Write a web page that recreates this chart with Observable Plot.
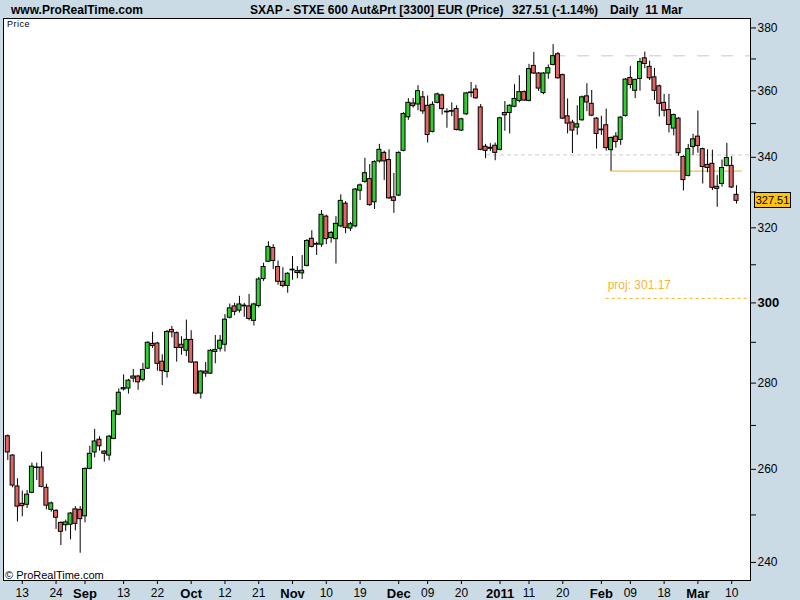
<!DOCTYPE html>
<html><head><meta charset="utf-8">
<script src="https://cdn.jsdelivr.net/npm/d3@7"></script>
<script src="https://cdn.jsdelivr.net/npm/@observablehq/plot@0.6"></script>
<style>
html,body{margin:0;padding:0;background:#cbdbe5;}
#wrap{position:relative;width:800px;height:600px;background:#cbdbe5;font-family:"Liberation Sans",Arial,sans-serif;overflow:hidden;}
#wrap svg{position:absolute;left:0;top:0;}
.t{position:absolute;font-weight:bold;font-size:12px;white-space:pre;color:#000;top:3px;line-height:14px;}
.s{position:absolute;white-space:pre;color:#000;}
#box{position:absolute;left:754px;width:35px;height:14px;background:#ffc20e;border:1px solid #000;font-size:11px;line-height:14px;text-align:center;}
</style></head>
<body><div id="wrap"></div>
<script>
// OHLC, one per trading day (10 Aug 2010 .. 11 Mar 2011)
const open  = [267.5,263.1,256.2,252.4,252.2,254.8,260.3,260.4,255.9,251.1,250.9,248.3,247.8,247.9,251.2,251.1,249.7,260.1,263.8,266.7,264.0,263.1,266.9,272.5,278.5,278.7,281.1,281.6,280.8,283.5,289.6,289.7,285.2,282.7,293.1,292.3,289.4,287.9,290.6,285.0,277.5,282.8,282.3,287.6,288.4,289.4,296.2,299.1,298.0,299.3,299.1,295.4,299.2,306.2,310.8,314.5,309.4,305.5,304.4,308.5,307.8,307.7,309.7,317.0,315.4,315.4,323.1,317.2,316.9,320.4,326.7,319.8,320.4,330.4,332.9,333.7,327.1,338.8,341.3,339.2,328.5,329.0,341.9,351.9,356.1,355.8,358.0,355.4,347.5,356.3,358.6,353.4,353.6,354.4,347.9,352.8,359.3,360.4,354.9,343.1,342.5,343.4,342.2,352.5,353.2,355.1,356.9,359.6,356.9,367.8,365.4,359.3,365.4,368.1,371.5,364.9,352.2,350.3,348.8,351.0,358.3,356.0,351.5,348.0,349.5,342.1,346.1,345.1,352.3,364.0,360.0,363.7,370.2,367.5,364.2,361.4,356.3,354.1,348.5,351.5,340.1,334.6,343.0,346.1,342.4,337.8,338.1,330.9,332.3,337.5,337.5,329.2];
const high  = [267.8,263.3,257.9,255.2,255.3,261.4,261.4,263.9,256.7,252.8,251.1,248.5,248.9,250.5,251.8,251.8,260.3,265.2,269.1,267.4,264.2,267.7,273.6,278.6,282.0,280.9,283.3,281.9,284.8,290.1,292.5,290.0,286.9,293.0,294.0,292.6,291.4,295.6,292.9,285.2,283.0,285.0,288.2,291.7,291.7,297.0,299.7,299.9,301.7,299.9,302.2,299.9,306.6,310.4,316.2,315.4,311.0,309.2,307.9,312.2,309.5,312.5,316.8,319.2,316.1,324.8,323.5,319.0,323.1,329.2,327.3,321.5,331.0,332.3,339.7,337.9,339.0,343.8,341.8,342.2,335.3,341.6,353.3,357.6,357.6,361.6,359.8,358.4,356.6,359.3,359.0,354.5,356.3,355.4,351.6,359.5,362.6,361.7,355.8,343.8,344.0,344.2,351.9,356.7,355.7,361.9,364.7,360.0,368.3,372.1,365.7,365.7,368.1,374.6,372.1,365.2,357.5,351.0,355.4,358.4,362.2,360.1,351.8,352.2,354.4,346.0,347.3,352.1,363.8,367.6,363.7,370.2,372.2,369.3,367.0,361.8,358.9,358.9,352.9,351.8,340.4,343.8,346.8,353.8,342.7,342.2,342.1,334.7,339.2,344.1,340.2,331.8];
const low   = [262.0,255.9,248.5,249.6,251.4,254.6,257.5,255.9,251.1,250.6,246.9,243.5,246.5,244.7,246.6,241.9,248.3,259.9,262.6,264.1,261.6,261.9,266.7,272.3,278.1,277.4,280.1,278.3,280.3,283.3,288.5,282.9,279.4,281.2,291.1,285.1,286.8,286.5,284.8,277.2,276.2,281.4,282.1,284.7,287.6,287.6,295.9,296.7,297.4,296.3,295.4,294.1,298.7,305.6,310.6,308.7,304.6,303.9,302.5,305.9,306.3,306.1,309.4,314.5,312.5,314.7,315.4,315.8,310.2,320.0,318.4,319.0,320.0,327.6,332.5,326.0,325.1,338.3,333.3,327.9,324.0,328.7,341.6,351.0,354.7,353.9,352.8,344.2,347.2,356.0,352.6,348.6,352.1,347.8,347.6,352.5,357.9,357.4,341.9,339.6,341.7,339.0,341.9,347.7,346.9,354.8,356.3,356.7,356.6,365.1,359.8,358.8,363.6,367.8,363.6,351.2,346.9,341.1,346.5,350.7,353.6,352.1,342.4,346.5,341.8,336.0,342.7,343.5,352.0,360.6,357.6,359.9,366.9,363.2,357.0,352.0,352.0,347.2,346.3,340.3,330.3,334.3,340.5,341.2,332.3,335.5,330.4,325.7,331.4,337.2,331.0,326.6];
const close = [263.8,256.4,251.8,251.9,254.4,260.6,260.4,256.1,252.0,252.5,249.4,246.4,248.4,250.3,248.1,249.1,260.1,263.5,266.3,265.2,263.5,267.4,273.3,277.7,278.8,280.6,281.6,280.2,283.2,289.9,289.1,284.7,282.9,292.6,292.5,288.6,288.6,290.6,285.0,277.5,282.8,282.3,287.9,288.1,290.4,295.7,298.6,297.7,299.6,299.1,295.9,299.6,306.1,309.4,314.8,311.0,305.5,304.4,307.6,308.7,308.3,308.4,316.4,314.8,315.6,323.6,316.9,318.6,321.1,327.5,320.0,321.0,330.7,331.9,335.4,326.3,338.6,342.2,338.8,328.2,327.5,341.3,352.9,356.3,355.3,359.9,353.7,346.6,355.7,358.9,354.4,353.6,353.8,348.1,351.3,359.2,359.5,357.7,342.2,341.9,342.8,341.3,351.6,353.2,355.4,357.5,359.6,357.0,366.8,365.4,360.7,365.4,367.1,370.9,363.9,351.5,350.0,347.9,349.8,358.0,356.4,352.4,346.9,348.2,342.7,345.7,344.5,351.8,363.5,361.8,363.4,369.0,368.4,363.9,360.0,356.0,353.9,349.6,352.6,341.2,333.4,342.4,345.3,343.3,337.2,336.9,331.2,331.5,336.9,339.8,331.3,327.51];

// x-axis ticks: trading-day index and label
const xTickIdx   = [3,10,16,24,31,38,45,52,59,66,73,81,87,94,102,108,115,123,129,136,143,150];
const xTickLabel = ["13","24","Sep","13","22","Oct","12","21","Nov","10","19","Dec","09","20","2011","11","20","Feb","09","18","Mar","10"];
const xTickBold  = [false,false,true,false,false,true,false,false,true,false,false,true,false,false,true,false,false,true,false,false,true,false];

// y-axis ticks
const yTicks      = [240,260,280,320,340,360,380];
const yTickBold   = [300];
const yMinorTicks = [250,270,290,310,330,350,370];

// overlay levels
const resistLevel = 371.0, resistFrom = 113.1;
const midLevel = 340.7, midFrom = 99.2;
const supportLevel = 336.0, supportFrom = 124.9, supportTo = 152.2;
const projLevel = 301.17, projFrom = 124.0;
const lastPrice = 327.51;

const candles = open.map((o, i) => ({i, open: o, high: high[i], low: low[i], close: close[i]}));
const labelOf = new Map(xTickIdx.map((d, k) => [d, xTickLabel[k]]));
const xNormal = xTickIdx.filter((d, k) => !xTickBold[k]);
const xBold = xTickIdx.filter((d, k) => xTickBold[k]);
const xMax = 153.9;

const chart = Plot.plot({
  width: 800, height: 600,
  marginLeft: 3, marginRight: 50, marginTop: 18, marginBottom: 20,
  style: {background: "transparent", fontFamily: "Liberation Sans, Arial, sans-serif", fontSize: "12px", color: "#000"},
  x: {type: "linear", domain: [-0.89, xMax], axis: null},
  y: {type: "log", domain: [236.3, 383.1], axis: null},
  marks: [
    Plot.frame({fill: "white"}),
    Plot.ruleY([resistLevel], {x1: resistFrom, x2: xMax, stroke: "#c8c8c8", strokeDasharray: "12,12"}),
    Plot.ruleY([midLevel], {x1: midFrom, x2: xMax, stroke: "#cccccc", strokeDasharray: "4,3"}),
    Plot.ruleY([supportLevel], {x1: supportFrom, x2: supportTo, stroke: "#f0b020"}),
    Plot.ruleY([projLevel], {x1: projFrom, x2: xMax, stroke: "#f5b324", strokeDasharray: "3,3"}),
    Plot.text(["proj: 301.17"], {x: projFrom + 0.3, y: 304.6, text: d => d, textAnchor: "start", fill: "#f7b733", fontSize: 12}),
    Plot.ruleX(candles, {x: "i", y1: "low", y2: "high", stroke: "#000", strokeWidth: 1}),
    Plot.rect(candles, {x1: d => d.i - 0.415, x2: d => d.i + 0.415, y1: "open", y2: "close",
      fill: d => d.close >= d.open ? "#33cc33" : "#e06666", stroke: "#000", strokeWidth: 1}),
    Plot.frame({stroke: "#000"}),
    Plot.axisY(yTicks, {anchor: "right", tickSize: 5, tickPadding: 2, tickFormat: d => String(d), label: null, fontSize: 12}),
    Plot.axisY(yTickBold, {anchor: "right", tickSize: 5, tickPadding: 2, tickFormat: d => String(d), label: null, fontSize: 13, fontWeight: "bold"}),
    Plot.axisY(yMinorTicks, {anchor: "right", tickSize: 5, tickFormat: () => "", label: null}),
    Plot.axisX(xNormal, {anchor: "bottom", tickSize: 4, tickPadding: 4, tickFormat: d => labelOf.get(d), label: null, fontSize: 12}),
    Plot.axisX(xBold, {anchor: "bottom", tickSize: 4, tickPadding: 4, tickFormat: d => labelOf.get(d), label: null, fontSize: 13, fontWeight: "bold"})
  ]
});
const wrap = document.getElementById("wrap");
wrap.appendChild(chart);

function addText(cls, txt, left, top, extra) {
  const d = document.createElement("div");
  d.className = cls; d.textContent = txt;
  d.style.left = left + "px"; if (top != null) d.style.top = top + "px";
  if (extra) Object.assign(d.style, extra);
  wrap.appendChild(d);
}
addText("t", "www.ProRealTime.com", 11, 3);
addText("t", "SXAP - STXE 600 Aut&Prt [3300] EUR (Price)", 250, 3);
addText("t", "327.51 (-1.14%)", 512, 3);
addText("t", "Daily  11 Mar", 610, 3);
addText("s", "Price", 7, 19, {fontSize: "9px", letterSpacing: "0.5px"});
addText("s", "\u00a9 ProRealTime.com", 5, 569, {fontSize: "11px"});

const yScale = chart.scale("y");
const yPix = yScale.apply(lastPrice);
const box = document.createElement("div");
box.id = "box"; box.textContent = lastPrice.toFixed(2);
box.style.top = (yPix - 8) + "px";
wrap.appendChild(box);
</script>
</body></html>
